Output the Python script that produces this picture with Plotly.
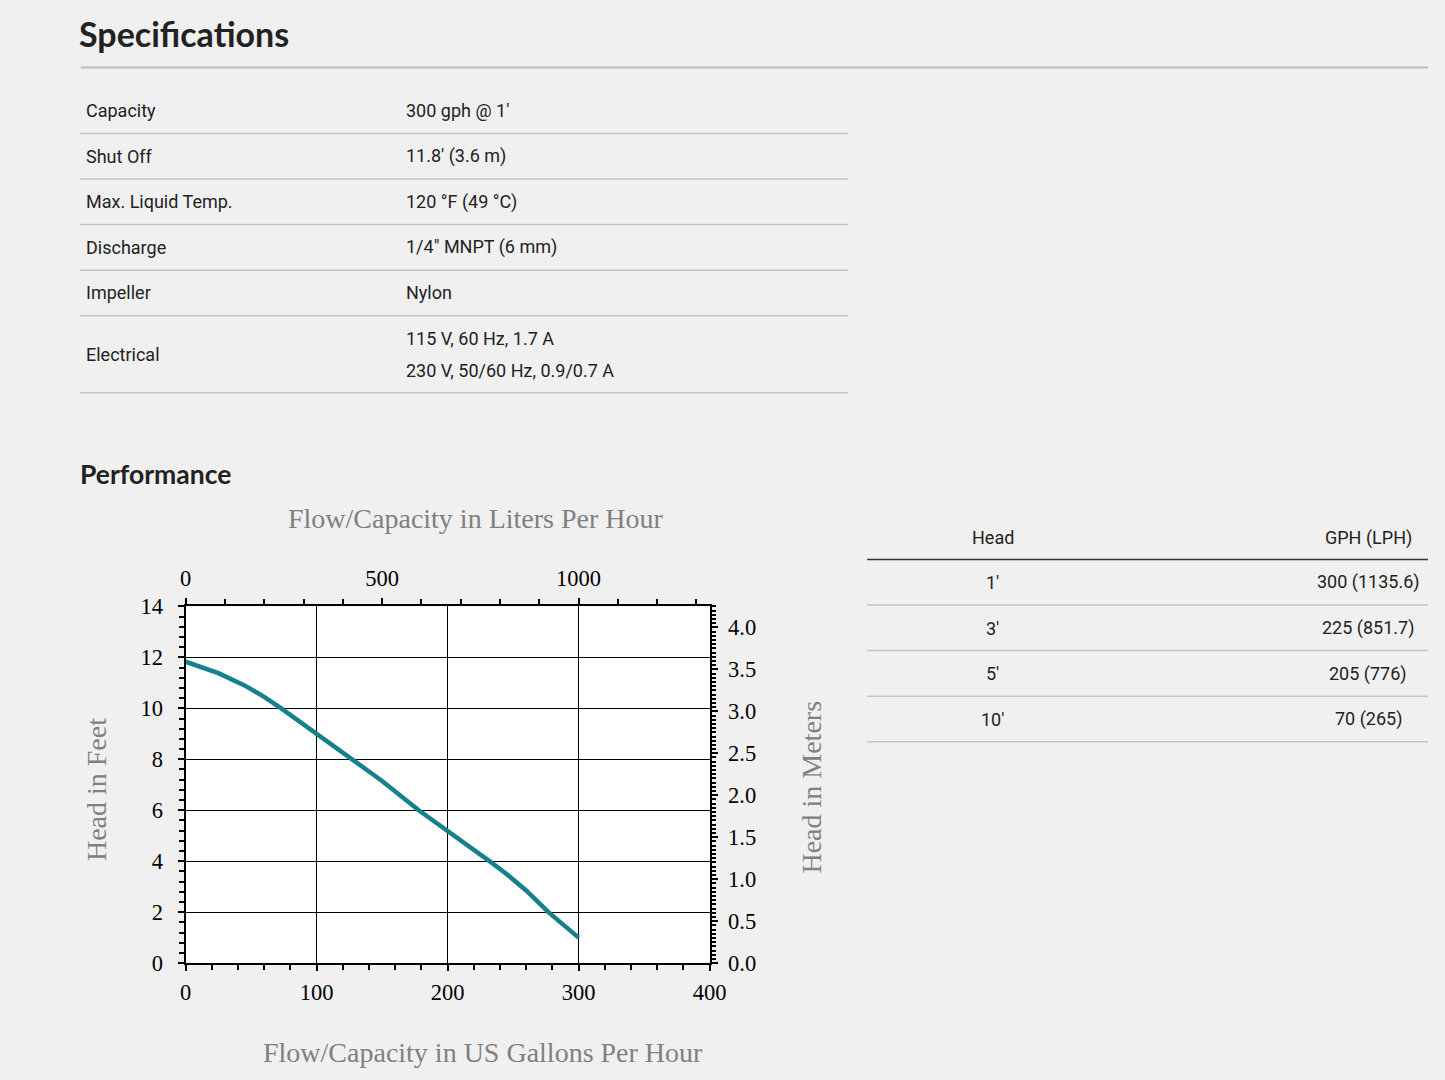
import plotly.graph_objects as go

W, H = 1445, 1080

# ---------------- data ----------------
spec_labels = ["Capacity", "Shut Off", "Max. Liquid Temp.", "Discharge", "Impeller", "Electrical"]
spec_values = [
    ["300 gph @ 1'"],
    ["11.8' (3.6 m)"],
    ["120 °F (49 °C)"],
    ['1/4" MNPT (6 mm)'],
    ["Nylon"],
    ["115 V, 60 Hz, 1.7 A", "230 V, 50/60 Hz, 0.9/0.7 A"],
]

perf_head = ["1'", "3'", "5'", "10'"]
perf_gph_lph = ["300 (1135.6)", "225 (851.7)", "205 (776)", "70 (265)"]

flow_gph = [0, 25, 45, 60, 73, 100, 128, 150, 178, 200, 232, 245, 260, 277, 300]
head_ft = [11.83, 11.38, 10.9, 10.45, 10.0, 9.0, 8.0, 7.15, 6.0, 5.2, 4.0, 3.5, 2.85, 2.0, 1.0]

bottom_range = [0, 400]
top_range = [0, 1333.33]
left_range = [0, 14]
right_range = [0, 4.25]

# ---------------- helpers (screen px -> paper fraction) ----------------
OX, OY = 5.0, 12.0
KX, KY = 1425.0 / 1445.0, 1056.0 / 1080.0

def px(s):
    return ((s - OX) / KX) / W

def py(s):
    return 1 - ((s - OY) / KY) / H

BG = "#f0f0f0"
TXT = "#222222"
SANS = "Roboto, Liberation Sans, sans-serif"
HEAD = "Lato, Roboto, sans-serif"
SERIF = "Liberation Serif, DejaVu Serif, serif"
GRAY = "#808080"

fig = go.Figure()

fig.add_trace(go.Scatter(
    x=flow_gph, y=head_ft, mode="lines",
    line=dict(color="#16808c", width=4.5),
    xaxis="x", yaxis="y", showlegend=False, hoverinfo="x+y",
))
fig.add_trace(go.Scatter(x=[0], y=[0], mode="markers", marker=dict(opacity=0),
                         xaxis="x2", yaxis="y2", showlegend=False, hoverinfo="skip"))

ann = []
shapes = []

ann.append(dict(text="Specifications", x=px(77), y=1, xref="paper", yref="paper",
                xanchor="left", yanchor="top", showarrow=False, borderpad=0,
                font=dict(family=HEAD, size=34, color=TXT, weight=700)))
shapes.append(dict(type="line", xref="paper", yref="paper", x0=px(80), x1=1, y0=py(67.5), y1=py(67.5),
                   line=dict(color="#bcbcbc", width=2)))

row_h1 = 45.6
row_h2 = 77
top = 88
for lab, vals in zip(spec_labels, spec_values):
    h = row_h1 if len(vals) == 1 else row_h2
    mid = top + h / 2
    ann.append(dict(text=lab, x=px(83), y=py(mid), xref="paper", yref="paper",
                    xanchor="left", yanchor="middle", showarrow=False,
                    font=dict(family=SANS, size=18, color=TXT)))
    n = len(vals)
    for i, v in enumerate(vals):
        off = (i - (n - 1) / 2) * 32
        ann.append(dict(text=v, x=px(404), y=py(mid + off), xref="paper", yref="paper",
                        xanchor="left", yanchor="middle", showarrow=False,
                        font=dict(family=SANS, size=18, color=TXT)))
    top += h
    shapes.append(dict(type="line", xref="paper", yref="paper", x0=px(79), x1=px(849),
                       y0=py(top), y1=py(top), line=dict(color="#c4c4c4", width=1.5)))

ann.append(dict(text="Performance", x=px(77), y=py(474), xref="paper", yref="paper",
                xanchor="left", yanchor="middle", showarrow=False,
                font=dict(family=HEAD, size=26.5, color=TXT, weight=700)))

ann.append(dict(text="Head", x=px(994), y=py(538), xref="paper", yref="paper",
                xanchor="center", yanchor="middle", showarrow=False,
                font=dict(family=SANS, size=18, color=TXT)))
ann.append(dict(text="GPH (LPH)", x=px(1370), y=py(538), xref="paper", yref="paper",
                xanchor="center", yanchor="middle", showarrow=False,
                font=dict(family=SANS, size=18, color=TXT)))
shapes.append(dict(type="line", xref="paper", yref="paper", x0=px(868), x1=1,
                   y0=py(560), y1=py(560), line=dict(color="#333333", width=1.5)))
rt = 560
for hd, val in zip(perf_head, perf_gph_lph):
    mid = rt + 23
    ann.append(dict(text=hd, x=px(994), y=py(mid), xref="paper", yref="paper",
                    xanchor="center", yanchor="middle", showarrow=False,
                    font=dict(family=SANS, size=18, color=TXT)))
    ann.append(dict(text=val, x=px(1370), y=py(mid), xref="paper", yref="paper",
                    xanchor="center", yanchor="middle", showarrow=False,
                    font=dict(family=SANS, size=18, color=TXT)))
    rt += 45.6
    shapes.append(dict(type="line", xref="paper", yref="paper", x0=px(868), x1=1,
                       y0=py(rt), y1=py(rt), line=dict(color="#c4c4c4", width=1.5)))

ann.append(dict(text="Flow/Capacity in Liters Per Hour", x=px(476), y=py(519), xref="paper", yref="paper",
                xanchor="center", yanchor="middle", showarrow=False,
                font=dict(family=SERIF, size=28, color=GRAY)))
ann.append(dict(text="Flow/Capacity in US Gallons Per Hour", x=px(483), y=py(1053), xref="paper", yref="paper",
                xanchor="center", yanchor="middle", showarrow=False,
                font=dict(family=SERIF, size=28, color=GRAY)))
ann.append(dict(text="Head in Feet", x=px(95), y=py(790), xref="paper", yref="paper",
                xanchor="center", yanchor="middle", showarrow=False, textangle=-90,
                font=dict(family=SERIF, size=28, color=GRAY)))
ann.append(dict(text="Head in Meters", x=px(812), y=py(788), xref="paper", yref="paper",
                xanchor="center", yanchor="middle", showarrow=False, textangle=-90,
                font=dict(family=SERIF, size=28, color=GRAY)))

tickfont = dict(family=SERIF, size=22.5, color="black")
common = dict(showline=True, linewidth=2, linecolor="black", zeroline=False,
              ticks="outside", ticklen=6, tickwidth=2, tickcolor="black",
              tickfont=tickfont, fixedrange=True)

xd = [px(185), px(710)]
yd = [py(964), py(607)]

fig.update_layout(
    width=W, height=H, autosize=False,
    margin=dict(l=0, r=0, t=0, b=0),
    paper_bgcolor=BG, plot_bgcolor="white",
    showlegend=False,
    xaxis=dict(domain=xd, range=bottom_range, tick0=0, dtick=100, anchor="y",
               showgrid=True, gridcolor="black", gridwidth=1, ticklabelstandoff=2,
               minor=dict(dtick=20, ticks="outside", ticklen=5, tickwidth=1.5, tickcolor="black", showgrid=False),
               **common),
    xaxis2=dict(domain=xd, range=top_range, tick0=0, dtick=500, overlaying="x", side="top", anchor="y",
                showgrid=False, ticklabelstandoff=3,
                minor=dict(dtick=100, ticks="outside", ticklen=5, tickwidth=1.5, tickcolor="black", showgrid=False),
                **common),
    yaxis=dict(domain=yd, range=left_range, tick0=0, dtick=2, anchor="x",
               showgrid=True, gridcolor="black", gridwidth=1, ticklabelstandoff=10,
               minor=dict(dtick=0.4, ticks="outside", ticklen=5, tickwidth=1.5, tickcolor="black", showgrid=False),
               **common),
    yaxis2=dict(domain=yd, range=right_range, tick0=0, dtick=0.5, overlaying="y", side="right", anchor="x",
                showgrid=False, tickformat=".1f", ticklabelstandoff=6,
                minor=dict(dtick=0.05, ticks="outside", ticklen=4, tickwidth=1.5, tickcolor="black", showgrid=False),
                **common),
    annotations=ann,
    shapes=shapes,
)

fig.write_html("out.html")
